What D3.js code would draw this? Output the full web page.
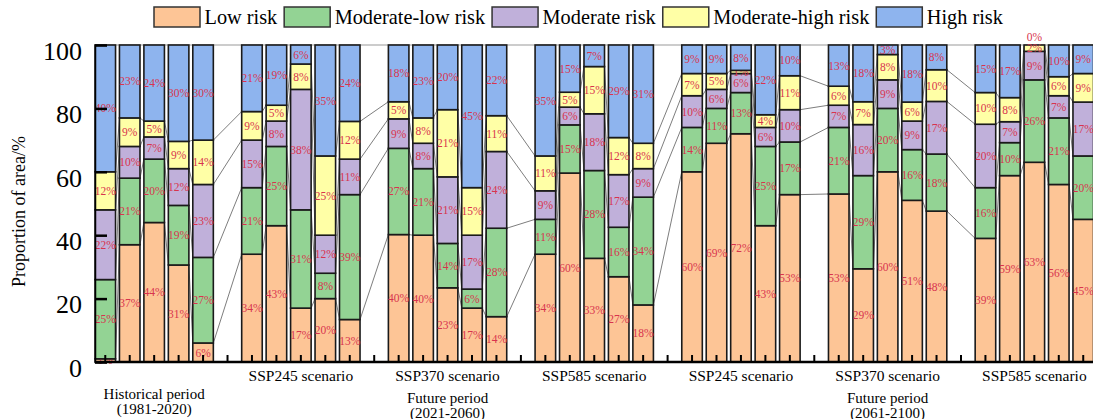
<!DOCTYPE html>
<html>
<head>
<meta charset="utf-8">
<script src="https://cdn.jsdelivr.net/npm/d3@7"></script>
<style>
  body { margin: 0; background: #fff; }
  svg, svg text { font-family: "Liberation Serif", Tinos, "Times New Roman", Times, "DejaVu Serif", serif !important; }
  svg { display: block; }
</style>
</head>
<body>
<svg id="chart" width="1093" height="419"></svg>
<script>
// Risk classes, bottom to top of each stack
const riskLevels = ["Low risk", "Moderate-low risk", "Moderate risk", "Moderate-high risk", "High risk"];
const riskColors = ["#fdc596", "#93d394", "#c0b0da", "#ffffa6", "#8eb4ee"];

// Scenario captions under each group of five bars
const groupLabels = ["", "SSP245 scenario", "SSP370 scenario", "SSP585 scenario",
                     "SSP245 scenario", "SSP370 scenario", "SSP585 scenario"];
// Period captions, placed under the given group
const periodLabels = [
  { group: 0, lines: ["Historical period", "(1981-2020)"] },
  { group: 2, lines: ["Future period", "(2021-2060)"] },
  { group: 5, lines: ["Future period", "(2061-2100)"] }
];

// Share of area (%) per risk class, 7 groups x 5 bars
const lowRisk      = [1, 37, 44, 30.6, 6,   34, 43, 17, 20, 13.4,   40.2, 40, 23.4, 17, 14.3,
                      34, 59.6, 32.7, 26.9, 18,   60, 69, 72, 43, 52.8,   53, 29.4, 60, 51, 47.6,
                      39, 58.8, 63, 56, 45];
const modLowRisk   = [25, 21, 20, 18.8, 27,   21, 25, 31, 8, 39.4,   27.2, 21, 14.0, 6, 27.9,
                      11, 15.2, 27.7, 15.6, 34,   14, 11, 13, 25, 16.6,   21, 29.4, 20, 16, 18.0,
                      16, 10.4, 26, 21, 20];
const moderateRisk = [22, 10, 7, 11.6, 23,   15, 8, 38, 12, 11.2,   9.3, 8, 21.0, 17, 24.2,
                      9, 5.6, 17.9, 16.6, 9,   10, 6, 6, 6, 10.2,   7, 16.1, 9, 9, 16.6,
                      20, 6.6, 9, 7, 17];
const modHighRisk  = [12, 9, 5, 8.6, 14,   9, 5, 8, 25, 11.9,   5.4, 8, 21.2, 15, 11.3,
                      11, 4.7, 14.9, 11.7, 8,   7, 5, 1, 4, 10.7,   6, 7.2, 8, 6, 10.0,
                      10, 7.6, 2, 6, 9];
const highRisk     = [40, 23, 24, 30.4, 30,   21, 19, 6, 35, 24.1,   17.9, 23, 20.4, 45, 22.3,
                      35, 14.9, 6.8, 29.2, 31,   9, 9, 8, 22, 9.7,   13, 17.9, 3, 18, 7.8,
                      15, 16.6, 0, 10, 9];

const yTicks = [0, 20, 40, 60, 80, 100];
const barsPerGroup = 5;

const series = [lowRisk, modLowRisk, moderateRisk, modHighRisk, highRisk];
const rows = lowRisk.map((_, k) => {
  const r = { slot: Math.floor(k / barsPerGroup) * (barsPerGroup + 1) + (k % barsPerGroup) };
  riskLevels.forEach((name, j) => r[name] = series[j][k]);
  return r;
});

const svg = d3.select("#chart");
const margin = { left: 95, right: 0, top: 45, bottom: 57 };
const W = 1093, H = 419;
const nSlots = groupLabels.length * (barsPerGroup + 1) - 1;

const x = d3.scaleBand().domain(d3.range(nSlots))
  .range([margin.left, 1093.5]).paddingInner(0.16).paddingOuter(0);
const y = d3.scaleLinear().domain([0, 100]).range([H - margin.bottom, margin.top]);
const color = d3.scaleOrdinal().domain(riskLevels).range(riskColors);

const stacked = d3.stack().keys(riskLevels)(rows);

// top frame line
svg.append("line")
  .attr("x1", margin.left).attr("x2", W)
  .attr("y1", y(100)).attr("y2", y(100))
  .attr("stroke", "#999").attr("stroke-width", 1);

// connector lines between neighbouring bars at each class boundary
const conn = svg.append("g").attr("stroke", "#6e6e6e").attr("stroke-width", 0.9).attr("fill", "none");
stacked.slice(0, -1).forEach(layer => {
  for (let k = 0; k < rows.length - 1; k++) {
    const a = rows[k], b = rows[k + 1];
    conn.append("line")
      .attr("x1", x(a.slot) + x.bandwidth()).attr("y1", y(layer[k][1]))
      .attr("x2", x(b.slot)).attr("y2", y(layer[k + 1][1]));
  }
});

// stacked bars
const layers = svg.append("g").selectAll("g").data(stacked).join("g")
  .attr("fill", d => color(d.key));
layers.selectAll("rect").data(d => d).join("rect")
  .attr("x", d => x(d.data.slot))
  .attr("width", x.bandwidth())
  .attr("y", d => y(d[1]))
  .attr("height", d => y(d[0]) - y(d[1]))
  .attr("stroke", "#1a1a1a").attr("stroke-width", 1.6);

// value labels (an empty class sits just above the frame)
const fmt = d3.format(".0f");
layers.selectAll("text").data(d => d).join("text")
  .attr("x", d => x(d.data.slot) + x.bandwidth() / 2)
  .attr("y", d => y((d[0] + d[1]) / 2) - (d[1] - d[0] === 0 ? 8 : 0))
  .attr("dy", "0.35em")
  .attr("text-anchor", "middle")
  .attr("fill", "#d8344e")
  .attr("font-size", 11.5)
  .text(d => fmt(d[1] - d[0]) + "%");

// x axis: inward tick at every slot
const xAxis = svg.append("g").attr("transform", `translate(0,${y(0)})`)
  .call(d3.axisBottom(x).tickSize(-7).tickFormat(""));
xAxis.select(".domain").remove();
xAxis.selectAll(".tick line").attr("stroke", "#000").attr("stroke-width", 2);
svg.append("line")
  .attr("x1", margin.left).attr("x2", W)
  .attr("y1", y(0)).attr("y2", y(0))
  .attr("stroke", "#000").attr("stroke-width", 2.5);

// y axis: inward ticks
const yAxis = svg.append("g").attr("transform", `translate(${margin.left},0)`)
  .call(d3.axisLeft(y).tickValues(yTicks).tickSize(-12).tickPadding(13));
yAxis.attr("font-family", null);
yAxis.select(".domain").attr("stroke", "#000").attr("stroke-width", 1.5);
yAxis.selectAll(".tick line").attr("stroke", "#000").attr("stroke-width", 2.5);
yAxis.selectAll(".tick text")
  .attr("font-size", 26).attr("fill", "#000").attr("dy", "0.55em");

svg.append("text")
  .attr("transform", `translate(25,${(y(0) + y(100)) / 2 + 8}) rotate(-90)`)
  .attr("text-anchor", "middle")
  .attr("font-size", 18)
  .text("Proportion of area/%");

// group captions
const groupCenter = g => (x(g * (barsPerGroup + 1)) + x(g * (barsPerGroup + 1) + barsPerGroup - 1) + x.bandwidth()) / 2;
svg.append("g").selectAll("text").data(groupLabels).join("text")
  .attr("x", (d, g) => groupCenter(g))
  .attr("y", 381)
  .attr("text-anchor", "middle")
  .attr("font-size", 15.5)
  .text(d => d);

const periodG = svg.append("g").attr("font-size", 15).attr("text-anchor", "middle");
periodLabels.forEach(p => {
  const base = p.group === 0 ? 398.5 : 402.5;
  p.lines.forEach((line, i) => {
    periodG.append("text")
      .attr("x", groupCenter(p.group))
      .attr("y", base + i * 15)
      .text(line);
  });
});

// legend
const legend = svg.append("g");
let lx = 154;
riskLevels.forEach((name, j) => {
  legend.append("rect")
    .attr("x", lx).attr("y", 7).attr("width", 46).attr("height", 20)
    .attr("fill", riskColors[j]).attr("stroke", "#333").attr("stroke-width", 1.5);
  const t = legend.append("text")
    .attr("x", lx + 50.5).attr("y", 24)
    .attr("font-size", 20.3)
    .text(name);
  lx += 50.5 + t.node().getComputedTextLength() + 7;
});
</script>
</body>
</html>
